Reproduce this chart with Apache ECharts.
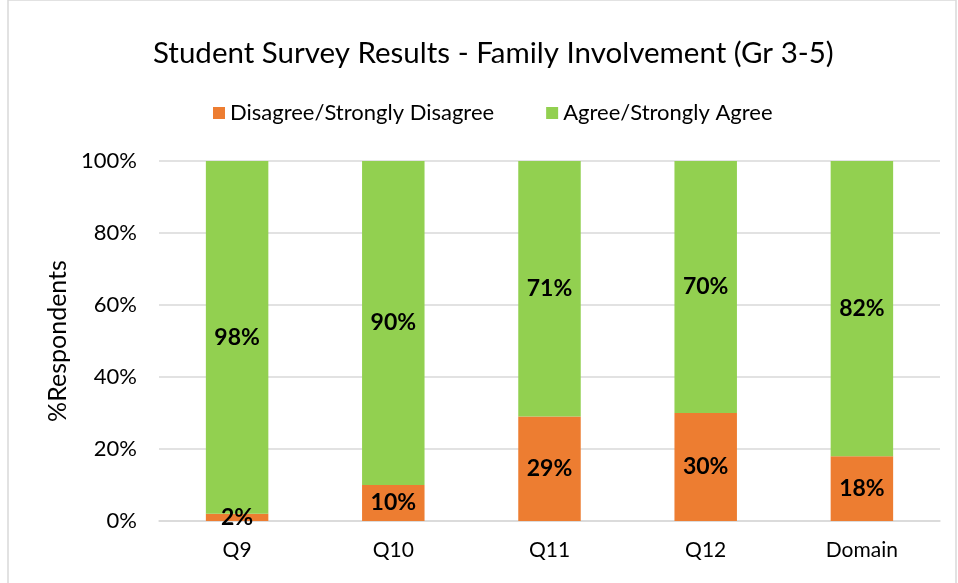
<!DOCTYPE html>
<html>
<head>
<meta charset="utf-8">
<script src="https://cdn.jsdelivr.net/npm/echarts@6/dist/echarts.min.js"></script>
<style>
  html, body { margin: 0; padding: 0; background: #fff; }
  #chart { width: 958px; height: 583px; }
</style>
</head>
<body>
<div id="chart"></div>
<script>
var categories = ['Q9', 'Q10', 'Q11', 'Q12', 'Domain'];
var disagree = [2, 10, 29, 30, 18];
var agree = [98, 90, 71, 70, 82];
var yTicks = [0, 20, 40, 60, 80, 100];

var chartDom = document.getElementById('chart');
var myChart = echarts.init(chartDom);
var font = 'Lato, "Open Sans", sans-serif';

var labelStyle = {
    show: true,
    position: 'inside',
    formatter: '{c}%',
    color: '#000',
    fontSize: 23,
    fontWeight: 'bold',
    fontFamily: font
};

var option = {
    color: ['#ED7D31', '#92D050'],
    textStyle: { fontFamily: font },
    graphic: [
        {
            type: 'rect',
            shape: { x: 8, y: 0, width: 948, height: 590 },
            style: { fill: 'none', stroke: '#d9d9d9', lineWidth: 1.5 },
            silent: true
        }
    ],
    title: {
        text: 'Student Survey Results - Family Involvement (Gr 3-5)',
        left: 148,
        top: 33,
        textStyle: { fontSize: 29.5, fontWeight: 'normal', color: '#000', fontFamily: font }
    },
    legend: {
        top: 97,
        left: 208,
        itemWidth: 12,
        itemHeight: 12,
        itemGap: 52,
        icon: 'rect',
        textStyle: { fontSize: 22, color: '#000', fontFamily: font },
        data: ['Disagree/Strongly Disagree', 'Agree/Strongly Agree']
    },
    grid: {
        left: 159,
        right: 18,
        top: 161,
        bottom: 62
    },
    xAxis: {
        type: 'category',
        data: categories,
        axisLine: { lineStyle: { color: '#d9d9d9', width: 1.5 } },
        axisTick: { show: false },
        axisLabel: { fontSize: 21, color: '#000', margin: 19, fontFamily: font }
    },
    yAxis: {
        type: 'value',
        min: yTicks[0],
        max: yTicks[yTicks.length - 1],
        interval: 20,
        name: '%Respondents',
        nameLocation: 'middle',
        nameGap: 82,
        nameRotate: 90,
        nameTextStyle: { fontSize: 25, color: '#000', fontFamily: font },
        axisLine: { show: false },
        axisTick: { show: false },
        axisLabel: { formatter: '{value}%', fontSize: 22, color: '#000', margin: 22, fontFamily: font },
        splitLine: { lineStyle: { color: '#d9d9d9', width: 1.5 } }
    },
    series: [
        {
            name: 'Disagree/Strongly Disagree',
            type: 'bar',
            stack: 'Total',
            barWidth: '40%',
            label: labelStyle,
            data: disagree
        },
        {
            name: 'Agree/Strongly Agree',
            type: 'bar',
            stack: 'Total',
            barWidth: '40%',
            label: labelStyle,
            data: agree
        }
    ]
};
myChart.setOption(option);
</script>
</body>
</html>
